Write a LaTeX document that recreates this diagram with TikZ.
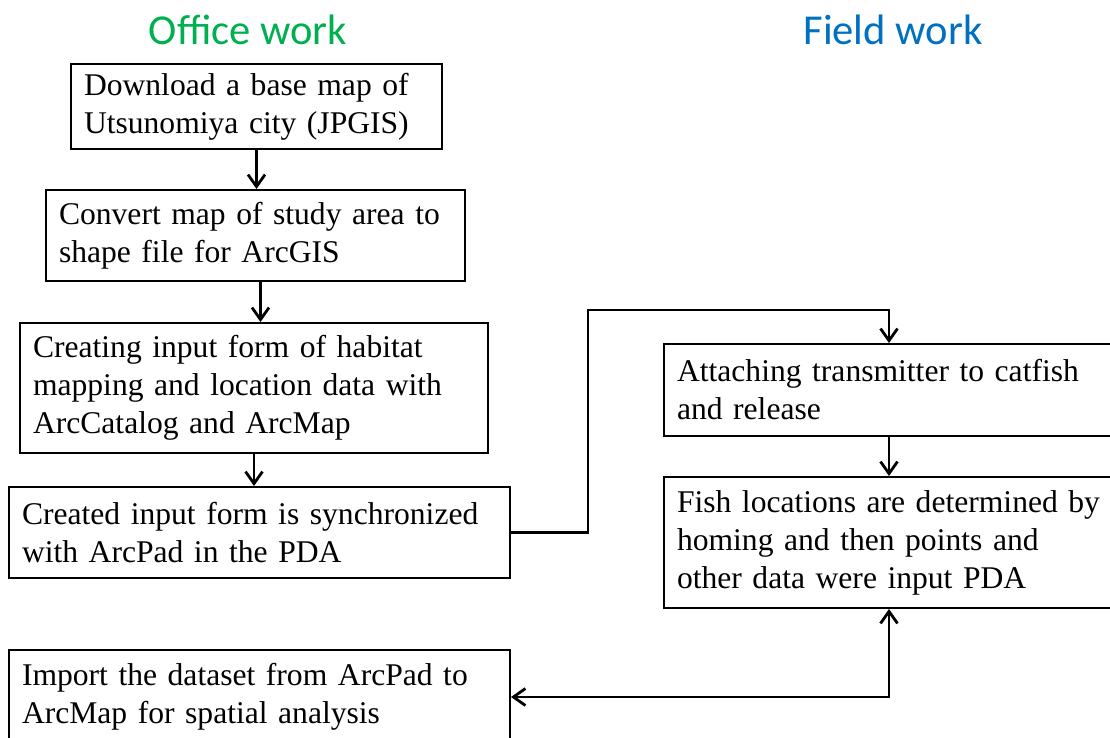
\documentclass[tikz,border=0pt]{standalone}
\usepackage{fontspec}
\setmainfont{Liberation Serif}
\newfontfamily\titlefont{Carlito}
\usetikzlibrary{arrows.meta}
\definecolor{officegreen}{RGB}{0,176,80}
\definecolor{fieldblue}{RGB}{0,112,192}
\tikzset{
    stepbox/.style={draw, line width=2pt, anchor=north west, align=left,
        inner xsep=13pt, inner ysep=0pt,
        font=\fontsize{31.6}{38}\selectfont},
    barb/.tip={Straight Barb[length=12pt,width=17pt,line width=2.8pt]},
    flow/.style={line width=2.8pt, -barb},
    heading/.style={font=\titlefont\fontsize{42.6}{46}\selectfont}
}
\begin{document}
\begin{tikzpicture}[x=1pt, y=-1pt]
        \useasboundingbox (0,0) rectangle (1110,738);
        \clip (0,0) rectangle (1110,738);

        % Column headings
        \node[heading, text=officegreen] (office) at (248,30) {Office work};
        \node[heading, text=fieldblue] (field) at (893,30) {Field work};

        % Office work steps
        \node[stepbox, minimum height=85pt, text width=345pt] (download) at (70,63)
            {Download a base map of\\Utsunomiya city (JPGIS)};
        \node[stepbox, minimum height=91pt, text width=393pt] (convert) at (45,189)
            {Convert map of study area to\\shape file for ArcGIS};
        \node[stepbox, minimum height=130pt, text width=442pt] (create) at (19,322)
            {Creating input form of habitat\\mapping and location data with\\ArcCatalog and ArcMap};
        \node[stepbox, minimum height=91pt, text width=475pt] (sync) at (8,486)
            {Created input form is synchronized\\with ArcPad in the PDA};
        \node[stepbox, minimum height=94pt, text width=475pt] (import) at (8,649)
            {Import the dataset from ArcPad to\\ArcMap for spatial analysis};

        % Field work steps
        \node[stepbox, minimum height=92pt, text width=424pt] (attach) at (663,343)
            {Attaching transmitter to catfish\\and release};
        \node[stepbox, minimum height=131pt, text width=424pt] (locate) at (663,476)
            {Fish locations are determined by\\homing and then points and\\other data were input PDA};

        % Connectors
        \draw[flow] (download.south) -- (download.south |- convert.north);
        \draw[flow] ([xshift=5pt]convert.south) -- ([xshift=5pt]convert.south |- create.north);
        \draw[flow] (create.south) -- (create.south |- sync.north);
        \coordinate (turn) at (588,310);
        \draw[flow] (sync.east) -| (turn) -| (attach.north);
        \draw[flow] (attach.south) -- (locate.north);
        \draw[flow, barb-barb] (locate.south) |- (import.east);
\end{tikzpicture}
\end{document}
